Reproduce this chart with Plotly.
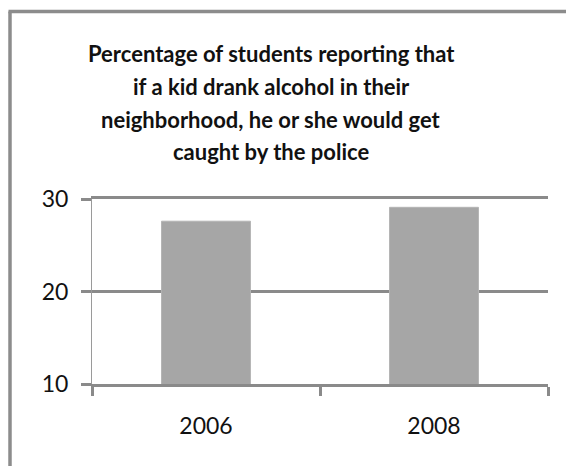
import plotly.graph_objects as go

categories = ["2006", "2008"]
values = [27.6, 29.1]
y_ticks = [10, 20, 30]
title_lines = [
    "Percentage of students reporting that",
    "if a kid drank alcohol in their",
    "neighborhood, he or she would get",
    "caught by the police",
]

W, H = 566, 466
ML, MR, MT, MB = 92, 18, 199, 82
PW = W - ML - MR
PH = H - MT - MB

def px_x(p):
    return (p - ML) / PW

def px_y(p):
    return (H - MB - p) / PH

GRID = "#8a8a8a"
FONT = "Lato"

fig = go.Figure()
fig.add_trace(go.Bar(
    x=categories, y=values, width=0.39,
    marker=dict(color="#a6a6a6", line=dict(color="#b4b4b4", width=1)),
))

fig.update_layout(
    width=W, height=H,
    margin=dict(l=ML, r=MR, t=MT, b=MB),
    paper_bgcolor="white", plot_bgcolor="white",
    showlegend=False,
    font=dict(family=FONT, color="#111111"),
)
fig.update_yaxes(
    range=[10, 30], tickvals=y_ticks, showgrid=True, gridcolor=GRID, gridwidth=2.5,
    ticks="outside", ticklen=10, tickwidth=2.5, tickcolor=GRID,
    showline=True, linecolor="#9a9a9a", linewidth=1,
    tickfont=dict(size=23, family=FONT, color="#111111"),
    ticklabelstandoff=8,
    zeroline=False, fixedrange=True,
)
fig.update_xaxes(
    type="category", tickson="boundaries", ticks="outside", ticklen=9, tickwidth=2.5,
    tickcolor=GRID, showline=True, mirror=True, linecolor=GRID, linewidth=2.5, showgrid=False,
    tickfont=dict(size=23, family=FONT, color="#111111"),
    ticklabelstandoff=20,
)

centers = [53.5, 86, 119, 151]
for line, cy in zip(title_lines, centers):
    fig.add_annotation(
        text="<b>" + line + "</b>", x=px_x(271), y=px_y(cy),
        xref="paper", yref="paper", xanchor="center", yanchor="middle",
        showarrow=False, font=dict(size=22, family=FONT, color="#111111"),
    )

# chart border (top and left edges visible)
fig.add_shape(type="line", xref="paper", yref="paper",
              x0=px_x(10), x1=px_x(10), y0=px_y(470), y1=px_y(11.5),
              line=dict(color="#8c8c8c", width=3.5))
fig.add_shape(type="line", xref="paper", yref="paper",
              x0=px_x(8.5), x1=px_x(570), y0=px_y(11.5), y1=px_y(11.5),
              line=dict(color="#8c8c8c", width=3.5))

fig.write_html("out.html")
